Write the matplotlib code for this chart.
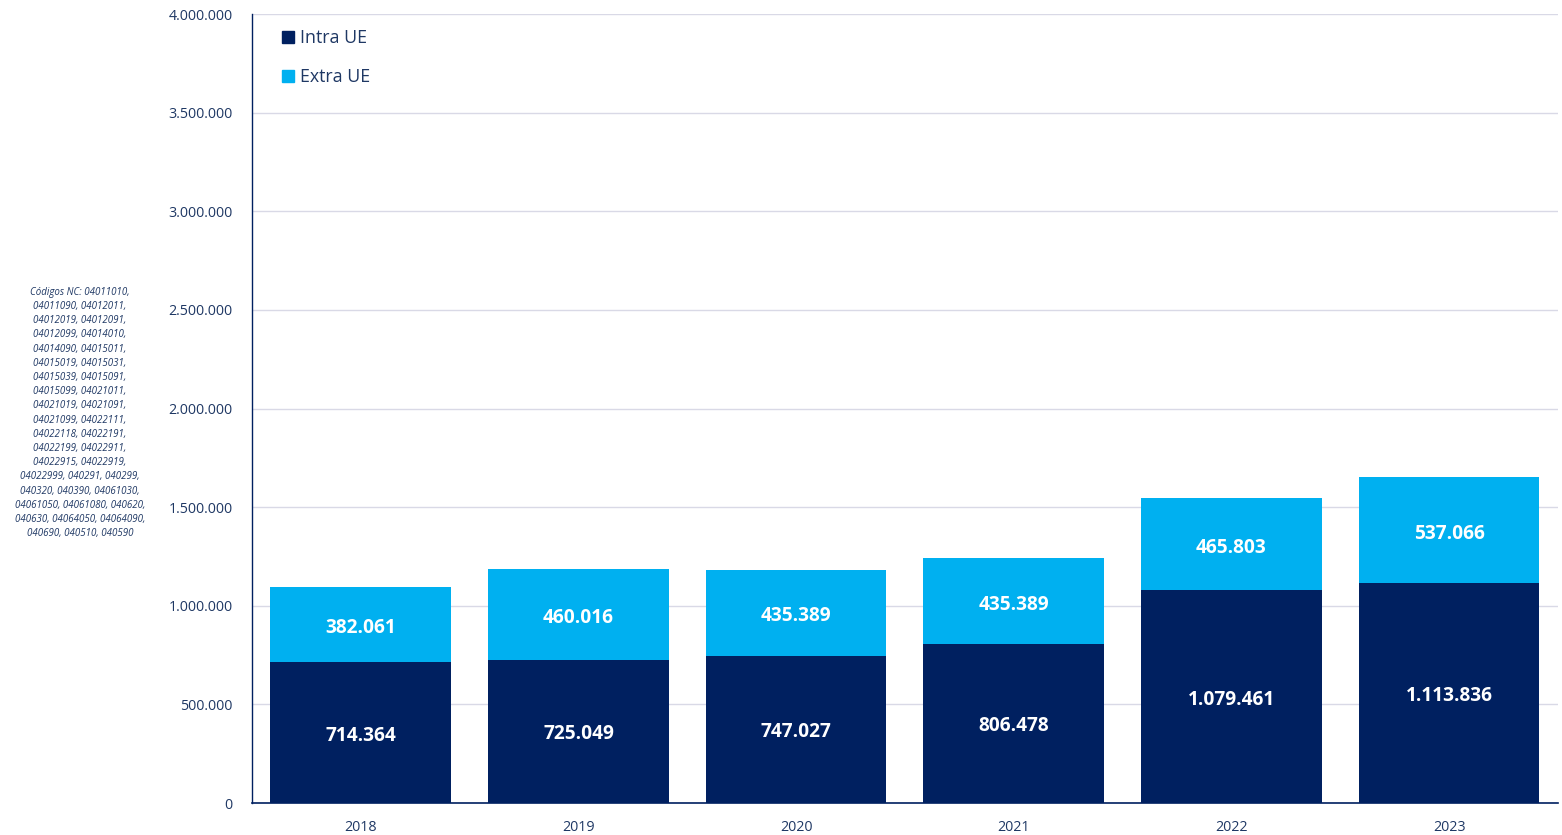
import matplotlib
matplotlib.use("Agg")
import matplotlib.pyplot as plt
from matplotlib.patches import Patch

years = ["2018", "2019", "2020", "2021", "2022", "2023"]
intra_ue = [714364, 725049, 747027, 806478, 1079461, 1113836]
extra_ue = [382061, 460016, 435389, 435389, 465803, 537066]
series_names = ["Intra UE", "Extra UE"]
yticks = [0, 500000, 1000000, 1500000, 2000000, 2500000, 3000000, 3500000, 4000000]

note = ("Códigos NC: 04011010,\n04011090, 04012011,\n04012019, 04012091,\n04012099, 04014010,\n"
        "04014090, 04015011,\n04015019, 04015031,\n04015039, 04015091,\n04015099, 04021011,\n"
        "04021019, 04021091,\n04021099, 04022111,\n04022118, 04022191,\n04022199, 04022911,\n"
        "04022915, 04022919,\n04022999, 040291, 040299,\n040320, 040390, 04061030,\n"
        "04061050, 04061080, 040620,\n040630, 04064050, 04064090,\n040690, 040510, 040590")

DARK = "#002060"
LIGHT = "#00B0F0"
TXT = "#1F3864"

plt.rcParams['font.family'] = ['Open Sans', 'DejaVu Sans']

fig = plt.figure(figsize=(15.62, 8.35), dpi=100)
ax = fig.add_axes([0.1613, 0.0383, 0.9974 - 0.1613, 0.9832 - 0.0383])

x = range(len(years))
w = 0.83
ax.bar(x, intra_ue, width=w, color=DARK, zorder=3)
ax.bar(x, extra_ue, width=w, bottom=intra_ue, color=LIGHT, zorder=3)

def fmt(v):
    return f"{v:,}".replace(",", ".")

for i in x:
    ax.text(i, intra_ue[i] / 2 - 15000, fmt(intra_ue[i]), ha="center", va="center",
            color="white", fontsize=13.8, fontweight="bold", zorder=4)
    ax.text(i, intra_ue[i] + extra_ue[i] / 2 - 18000, fmt(extra_ue[i]), ha="center", va="center",
            color="white", fontsize=13.8, fontweight="bold", zorder=4)

ax.set_ylim(0, 4000000)
ax.set_xlim(-0.5, len(years) - 0.5)
ax.set_yticks(yticks)
ax.set_yticklabels([fmt(v) for v in yticks], color=TXT, fontsize=10.3)
ax.set_xticks(list(x))
ax.set_xticklabels(years, color=TXT, fontsize=10.3)
ax.tick_params(axis="y", length=0, pad=14)
ax.tick_params(axis="x", length=0, pad=12)
ax.yaxis.grid(True, color="#D9D9E6", linewidth=1, zorder=0)
ax.set_axisbelow(True)
for s in ["top", "right"]:
    ax.spines[s].set_visible(False)
ax.spines["left"].set_color(DARK)
ax.spines["bottom"].set_color(DARK)
ax.spines["left"].set_linewidth(1)
ax.spines["bottom"].set_linewidth(1.2)

handles = [Patch(color=DARK), Patch(color=LIGHT)]
leg = ax.legend(handles, series_names, loc="upper left", bbox_to_anchor=(0.012, 0.999),
                frameon=False, fontsize=12.8, handlelength=0.7, handleheight=0.7,
                handletextpad=0.3, labelspacing=1.2, borderpad=0.3)
for t in leg.get_texts():
    t.set_color(TXT)

fig.text(80 / 1562, 1 - 413 / 835, note, ha="center", va="center", fontsize=7.0,
         style="italic", color=TXT, linespacing=1.4)

fig.savefig("out.png", dpi=100)
